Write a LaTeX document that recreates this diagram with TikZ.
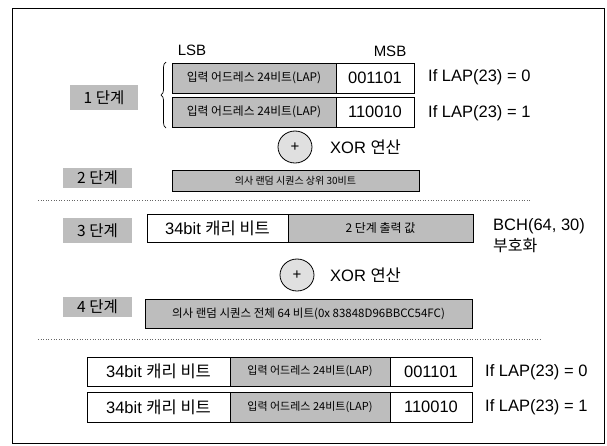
\documentclass[tikz,border=0pt]{standalone}
\usepackage{fontspec}
\setmainfont{Liberation Sans}
\newfontfamily\kr{Noto Sans CJK KR}
\usetikzlibrary{decorations.pathreplacing,shapes.geometric}
\definecolor{gbox}{gray}{0.74}
\newcommand\bx[7]{\node[#6, minimum width={#4pt-#2pt}, minimum height={#5pt-#3pt}] (#1) at ({(#2+#4)/2},{-(#3+#5)/2}) {#7};}
\newcommand\fs[1]{\fontsize{#1}{#1}\selectfont}
\tikzset{
  gbox/.style={draw, fill=gbox, line width=0.8pt, inner sep=0pt, font=\kr\fs{11}},
  wbox/.style={draw, fill=white, line width=0.8pt, inner sep=0pt, font=\fs{16.5}},
  steplbl/.style={fill=gbox, inner sep=0pt, font=\kr\fs{15.5}},
  lbl/.style={inner sep=0pt, font=\fs{16.5}},
  xorc/.style={draw, ellipse, fill=black!12, line width=0.8pt, inner sep=0pt, minimum width=34pt, minimum height=32pt, font=\fs{15}},
  sep/.style={dotted, black!60, line width=0.6pt}
}
\begin{document}
\begin{tikzpicture}[x=1pt,y=1pt]
\useasboundingbox (0,0) rectangle (607,-445);
\draw[line width=0.8pt] (12,-8) rectangle (604,-443);
% labels LSB / MSB
\node[lbl, font=\fs{15}] (lsb) at (192,-50) {LSB};
\node[lbl, font=\fs{15}] (msb) at (390,-51) {MSB};
% step labels
\bx{s1}{70}{85}{138}{110}{steplbl}{1 단계}
\bx{s2}{63}{168}{132}{188}{steplbl}{2 단계}
\bx{s3}{63}{218}{132}{243}{steplbl}{3 단계}
\bx{s4}{63}{297}{132}{317}{steplbl}{4 단계}
% step 1
\bx{r1g}{172}{63}{336}{93}{gbox, font=\kr\fs{11.8}}{입력 어드레스 24비트(LAP)}
\bx{r1w}{336}{63}{414}{93}{wbox}{001101}
\bx{r2g}{172}{97}{336}{127}{gbox, font=\kr\fs{11.8}}{입력 어드레스 24비트(LAP)}
\bx{r2w}{336}{97}{414}{127}{wbox}{110010}
\node[lbl, anchor=west] (c1) at (428,-77) {If LAP(23) = 0};
\node[lbl, anchor=west] (c2) at (428,-113) {If LAP(23) = 1};
\coordinate (bt) at (166,-62);
\coordinate (bb) at (166,-128);
\draw[decorate, decoration={brace, amplitude=5pt}, line width=0.7pt] (bb) -- (bt);
\node[xorc] (x1) at (295,-147) {+};
\node[lbl, anchor=west] (x1t) at (330,-147) {XOR {\kr 연산}};
% step 2
\bx{p2}{172}{170}{419}{191}{gbox, font=\kr\fs{10}}{의사 랜덤 시퀀스 상위 30비트}
\coordinate (d1a) at (38,-200);
\coordinate (d1b) at (530,-200);
\draw[sep] (d1a) -- (d1b);
% step 3
\bx{c3w}{147}{214}{288}{242}{wbox}{34bit {\kr 캐리 비트}}
\bx{c3g}{288}{214}{473}{242}{gbox, font=\kr\fs{12}}{2 단계 출력 값}
\node[lbl, anchor=west] (bch) at (493,-226) {BCH(64, 30)};
\node[lbl, anchor=west, font=\kr\fs{16}] (enc) at (493,-246) {부호화};
\node[xorc] (x2) at (297,-275) {+};
\node[lbl, anchor=west] (x2t) at (330,-275) {XOR {\kr 연산}};
% step 4
\bx{p4}{145}{299}{472}{328}{gbox, font=\kr\fs{11.5}}{의사 랜덤 시퀀스 전체 64 비트(0x 83848D96BBCC54FC)}
\coordinate (d2a) at (38,-339);
\coordinate (d2b) at (540,-339);
\draw[sep] (d2a) -- (d2b);
% result rows
\bx{aw}{87}{357}{230}{386}{wbox}{34bit {\kr 캐리 비트}}
\bx{ag}{230}{357}{390}{386}{gbox}{입력 어드레스 24비트(LAP)}
\bx{ab}{390}{357}{472}{386}{wbox}{001101}
\bx{bw}{87}{392}{230}{422}{wbox}{34bit {\kr 캐리 비트}}
\bx{bg}{230}{392}{390}{422}{gbox}{입력 어드레스 24비트(LAP)}
\bx{bb2}{390}{392}{472}{422}{wbox}{110010}
\node[lbl, anchor=west] (e1) at (485,-372) {If LAP(23) = 0};
\node[lbl, anchor=west] (e2) at (485,-407) {If LAP(23) = 1};
\end{tikzpicture}
\end{document}
